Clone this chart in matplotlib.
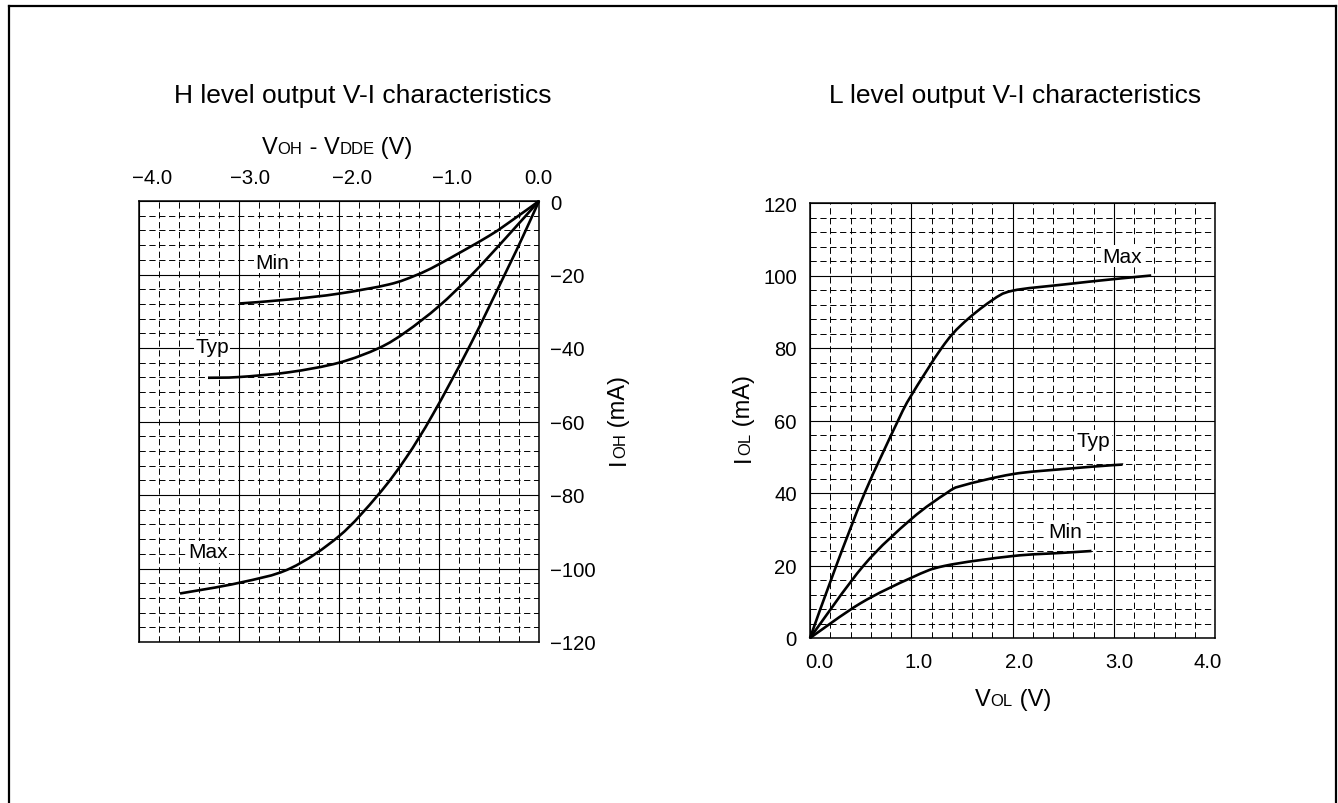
import matplotlib.pyplot as plt
from matplotlib.ticker import MultipleLocator, FixedLocator
from matplotlib.lines import Line2D
from matplotlib.transforms import ScaledTranslation
from matplotlib.path import Path
from matplotlib.patches import PathPatch

plt.rcParams['font.family'] = 'Liberation Sans'
plt.rcParams['lines.scale_dashes'] = False
plt.rcParams['axes.unicode_minus'] = True

W, H = 1338, 804

# ---- H level output (VOH - VDDE in V, IOH in mA) ----
h_min_v = [-3.0, -2.5, -2.0, -1.5, -1.23, -1.0, -0.5, -0.23, 0.0]
h_min_i = [-27.9, -26.8, -25.2, -22.7, -20.2, -17.2, -9.5, -4.5, 0.0]
h_typ_v = [-3.31, -3.0, -2.5, -2.0, -1.6, -1.33, -1.0, -0.67, -0.33, 0.0]
h_typ_i = [-48.1, -47.9, -46.6, -44.0, -40.0, -35.6, -28.6, -20.0, -10.0, 0.0]
h_max_v = [-3.59, -3.0, -2.49, -2.0, -1.61, -1.33, -1.06, -0.69, -0.33, -0.16, 0.0]
h_max_i = [-106.8, -103.9, -100.0, -91.2, -80.0, -69.9, -58.0, -39.3, -19.3, -9.6, 0.0]

h_xticks = [-4.0, -3.0, -2.0, -1.0, 0.0]
h_xlabels = ['\u22124.0', '\u22123.0', '\u22122.0', '\u22121.0', '0.0']
h_yticks = [0, -20, -40, -60, -80, -100, -120]
h_ylabels = ['0', '\u221220', '\u221240', '\u221260', '\u221280', '\u2212100', '\u2212120']

# ---- L level output (VOL in V, IOL in mA) ----
l_max_v = [0.0, 0.26, 0.54, 0.87, 1.0, 1.30, 1.5, 1.79, 2.0, 2.5, 3.0, 3.37]
l_max_i = [0.0, 20.0, 40.0, 60.0, 66.9, 80.0, 86.5, 93.0, 95.8, 97.5, 99.0, 100.0]
l_typ_v = [0.0, 0.53, 1.0, 1.35, 1.5, 2.0, 2.5, 3.0, 3.09]
l_typ_i = [0.0, 20.0, 32.8, 40.0, 42.0, 45.2, 46.6, 47.7, 47.8]
l_min_v = [0.0, 0.5, 1.0, 1.33, 2.0, 2.5, 2.78]
l_min_i = [0.0, 9.6, 16.6, 19.9, 22.6, 23.5, 24.0]

l_xticks = [0.0, 1.0, 2.0, 3.0, 4.0]
l_xlabels = ['0.0', '1.0', '2.0', '3.0', '4.0']
l_yticks = [0, 20, 40, 60, 80, 100, 120]
l_ylabels = ['0', '20', '40', '60', '80', '100', '120']

fig = plt.figure(figsize=(W / 100, H / 100), dpi=100)

def px_axes(x0, y0, x1, y1):
    return fig.add_axes([x0 / W, 1 - y1 / H, (x1 - x0) / W, (y1 - y0) / H])

def style_grid(ax, xmin, ymin):
    ax.xaxis.set_minor_locator(MultipleLocator(xmin))
    ax.yaxis.set_minor_locator(MultipleLocator(ymin))
    ax.grid(which='major', color='black', lw=0.8, ls='-')
    ax.grid(which='minor', color='black', lw=0.7, ls=(0, (4.5, 2.6)))
    ax.tick_params(which='both', length=0, labelsize=14.6)
    for s in ax.spines.values():
        s.set_linewidth(1.1)

def shift_labels(labels, offsets):
    # nudge tick labels sideways by a few pixels, like the original drawing
    for lab, dx in zip(labels, offsets):
        lab.set_transform(lab.get_transform() + ScaledTranslation(dx / 100, 0, fig.dpi_scale_trans))

def smooth_curve(ax, xs, ys):
    # Catmull-Rom style bezier through the read points (drawn in data coords)
    pts = list(zip(xs, ys))
    n = len(pts)
    verts, codes = [pts[0]], [Path.MOVETO]
    for i in range(n - 1):
        p0, p1 = pts[max(i - 1, 0)], pts[i]
        p2, p3 = pts[i + 1], pts[min(i + 2, n - 1)]
        c1 = (p1[0] + (p2[0] - p0[0]) / 6, p1[1] + (p2[1] - p0[1]) / 6)
        c2 = (p2[0] - (p3[0] - p1[0]) / 6, p2[1] - (p3[1] - p1[1]) / 6)
        verts += [c1, c2, p2]
        codes += [Path.CURVE4] * 3
    ax.add_patch(PathPatch(Path(verts, codes), fill=False, edgecolor='black',
                           lw=1.9, zorder=4, clip_on=False, capstyle='butt'))

ax1 = px_axes(139, 202, 539, 643)
ax2 = px_axes(810, 204, 1215, 639)

# left panel
smooth_curve(ax1, h_min_v, h_min_i)
smooth_curve(ax1, h_typ_v, h_typ_i)
smooth_curve(ax1, h_max_v, h_max_i)
ax1.set_xlim(-4, 0)
ax1.set_ylim(-120, 0)
ax1.xaxis.set_major_locator(FixedLocator(h_xticks))
ax1.yaxis.set_major_locator(FixedLocator(h_yticks))
ax1.set_xticklabels(h_xlabels)
ax1.set_yticklabels(h_ylabels)
ax1.xaxis.tick_top()
ax1.yaxis.tick_right()
style_grid(ax1, 0.2, 4)
ax1.tick_params(axis='x', pad=10)
ax1.tick_params(axis='y', pad=8)

lbl = dict(fontsize=15, ha='center', va='center', zorder=3,
           bbox=dict(facecolor='white', edgecolor='none', pad=1.0))
ax1.text(-2.67, -16.7, 'Min', **lbl)
ax1.text(-3.27, -39.7, 'Typ', **lbl)
ax1.text(-3.31, -95.5, 'Max', **lbl)

# right panel
smooth_curve(ax2, l_max_v, l_max_i)
smooth_curve(ax2, l_typ_v, l_typ_i)
smooth_curve(ax2, l_min_v, l_min_i)
ax2.set_xlim(0, 4)
ax2.set_ylim(0, 120)
ax2.xaxis.set_major_locator(FixedLocator(l_xticks))
ax2.yaxis.set_major_locator(FixedLocator(l_yticks))
ax2.set_xticklabels(l_xlabels)
ax2.set_yticklabels(l_ylabels)
style_grid(ax2, 0.2, 4)
ax2.tick_params(axis='x', pad=10)
ax2.tick_params(axis='y', pad=9.4)

ax2.text(3.08, 105.3, 'Max', **lbl)
ax2.text(2.80, 54.4, 'Typ', **lbl)
ax2.text(2.52, 29.3, 'Min', **lbl)

shift_labels([t.label2 for t in ax1.xaxis.get_major_ticks()], [13, 11, 13, 13, -1])
shift_labels([t.label1 for t in ax2.xaxis.get_major_ticks()], [9, 7.5, 6.5, 5.5, -7.5])

# titles
fig.text(363 / W, 1 - 103 / H, 'H level output V-I characteristics',
         fontsize=19, ha='center', va='baseline')
fig.text(1015 / W, 1 - 103 / H, 'L level output V-I characteristics',
         fontsize=19, ha='center', va='baseline')

# axis labels with small-caps subscripts, drawn piece by piece
renderer = fig.canvas.get_renderer()

def caps_label(x, y, parts, vertical=False):
    for s, fs in parts:
        t = fig.text(x / W, 1 - y / H, s, fontsize=fs, ha='left', va='baseline',
                     rotation=90 if vertical else 0, rotation_mode='anchor')
        ext = t.get_window_extent(renderer)
        if vertical:
            y -= ext.height
        else:
            x += ext.width

BIG, SMALL = 17, 12
caps_label(262, 154, [('V', BIG), ('OH', SMALL), (' - V', BIG), ('DDE', SMALL), (' (V)', BIG)])
caps_label(975, 706, [('V', BIG), ('OL', SMALL), (' (V)', BIG)])
caps_label(625, 465, [('I', BIG), ('OH', SMALL), (' (mA)', BIG)], vertical=True)
caps_label(750, 462, [('I', BIG), ('OL', SMALL), (' (mA)', BIG)], vertical=True)

# outer frame (bottom edge falls outside the picture)
for xs, ys in [([9, 9], [7, 810]), ([9, 1336], [7, 7]), ([1336, 1336], [7, 810])]:
    fig.add_artist(Line2D([v / W for v in xs], [1 - v / H for v in ys],
                          transform=fig.transFigure, color='black', lw=1.6))

fig.savefig('out.png', dpi=100)
